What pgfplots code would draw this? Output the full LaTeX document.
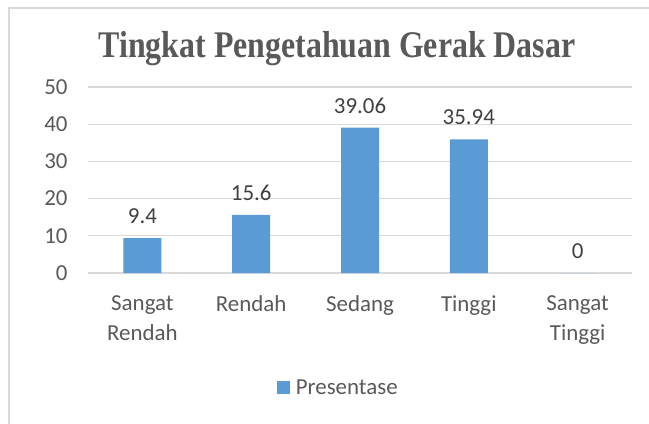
\documentclass[border=0pt]{standalone}
\usepackage{fontspec}
\setmainfont{Carlito}
\newfontfamily\titlefont{Liberation Serif}
\usepackage{pgfplots}
\pgfplotsset{compat=1.18}
\definecolor{barblue}{HTML}{5B9BD5}
\definecolor{txtgray}{HTML}{595959}
\definecolor{lblgray}{HTML}{404040}
\definecolor{gridgray}{HTML}{D9D9D9}

\begin{document}
\begin{tikzpicture}[x=1bp,y=1bp]
\useasboundingbox (0,0) rectangle (649,423);
% chart frame (only top and left edge are inside the picture)
\draw[gridgray, line width=1.5bp] (9,-5) -- (9,415) -- (660,415);
\node[font=\titlefont\bfseries\fontsize{32}{38}\selectfont, text=txtgray, yscale=1.18] at (337,374) {Tingkat Pengetahuan Gerak Dasar};
\begin{axis}[
  at={(88bp,150bp)}, anchor=south west,
  scale only axis, width=544bp, height=186bp,
  xmin=-0.5, xmax=4.5, ymin=0, ymax=50,
  ybar, bar width=38bp,
  axis line style={draw=none},
  ytick={0,10,...,50}, ymajorgrids,
  grid style={gridgray, line width=1.2bp},
  xtick={0,...,4},
  xticklabels={{Sangat\\Rendah}, Rendah, Sedang, Tinggi, {Sangat\\Tinggi}},
  major tick length=0pt,
  /pgf/number format/assume math mode=true,
  tick label style={font=\fontsize{23}{30}\selectfont, text=txtgray},
  xticklabel style={align=center, yshift=-19bp},
  yticklabel style={xshift=-17bp},
  nodes near coords,
  every node near coord/.append style={font=\fontsize{23}{28}\selectfont, text=lblgray, yshift=11bp},
  legend style={at={(0.46,-0.618)}, anchor=center, draw=none, fill=none,
    font=\fontsize{23}{28}\selectfont, text=txtgray},
  legend image code/.code={\fill[barblue] (0bp,-6.5bp) rectangle (13bp,6.5bp);
    \path (0bp,0bp) -- (17bp,0bp);},
]
\addplot[fill=barblue, draw=none] coordinates {(0,9.4) (1,15.6) (2,39.06) (3,35.94) (4,0)};
\addlegendentry{Presentase}
\end{axis}
\end{tikzpicture}
\end{document}
